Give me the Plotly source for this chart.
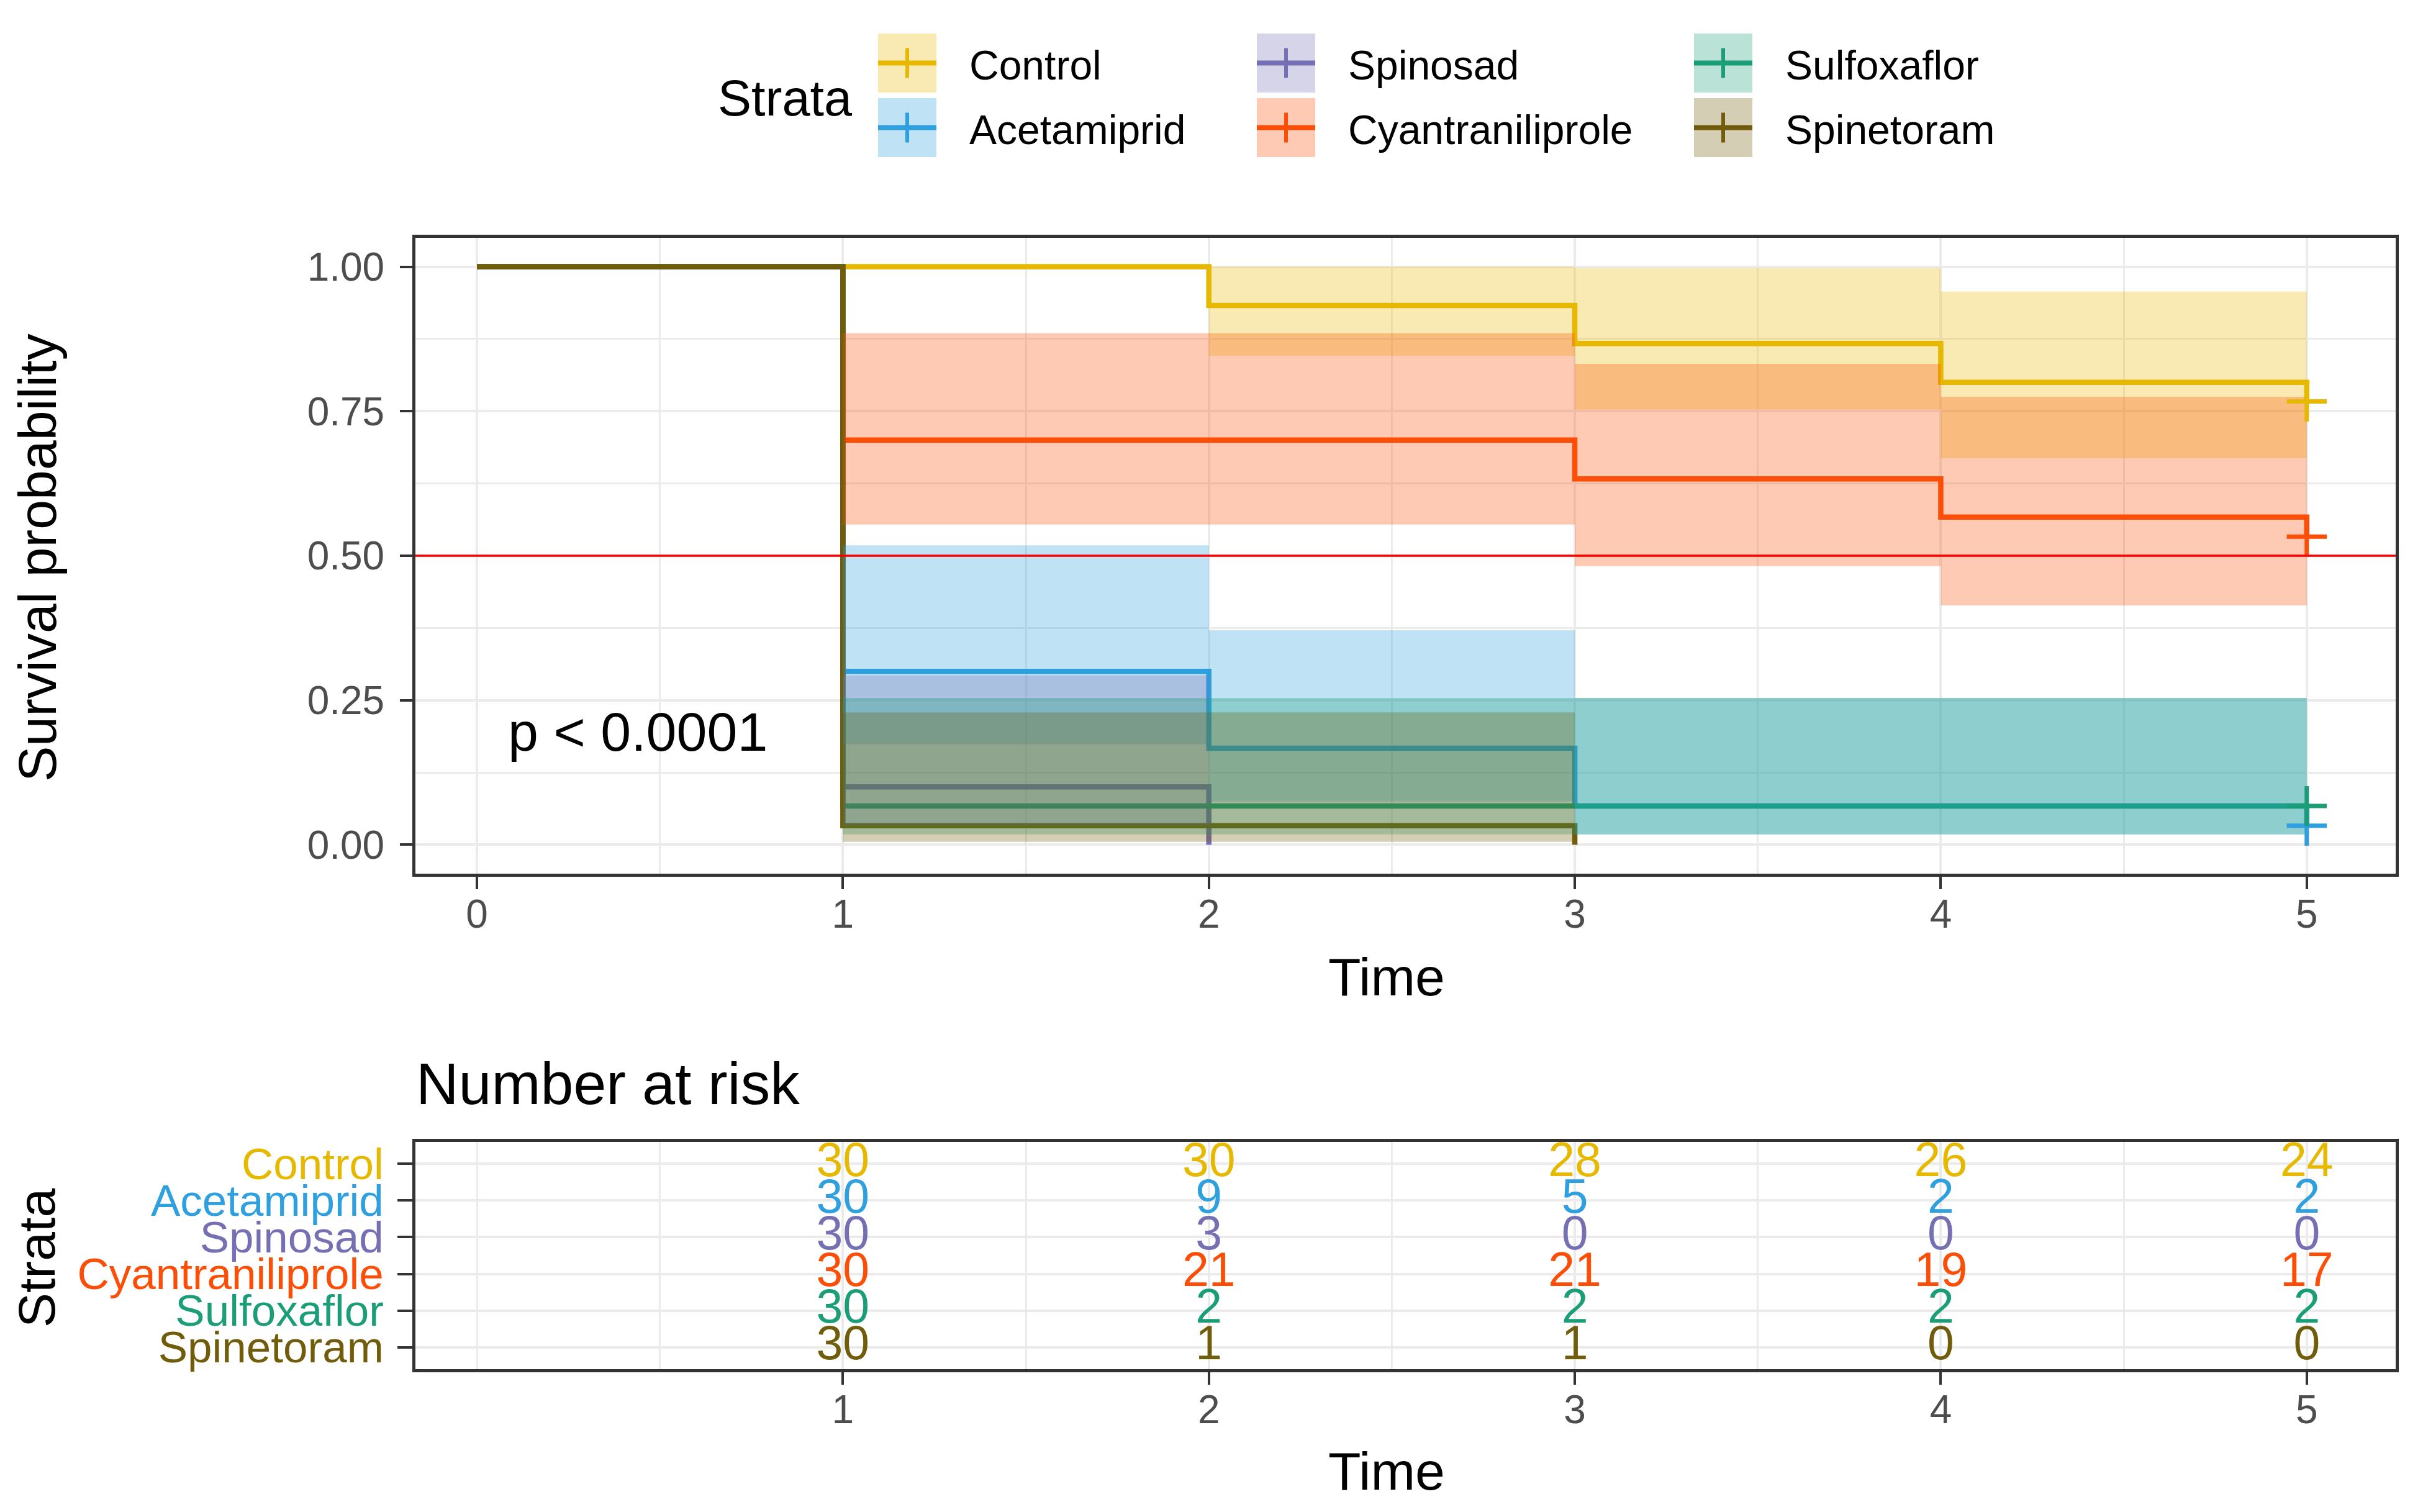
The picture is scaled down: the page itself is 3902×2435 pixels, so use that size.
import plotly.graph_objects as go
from plotly.subplots import make_subplots

FONT = "Liberation Sans, Arial, sans-serif"
GRID = "#EBEBEB"
FRAME = "#333333"
TICK_TEXT = "#4D4D4D"

STRATA = ["Control", "Acetamiprid", "Spinosad", "Cyantraniliprole", "Sulfoxaflor", "Spinetoram"]
COLORS = ["#E7B800", "#2E9FDF", "#7570B3", "#FC4E07", "#1B9E77", "#705C0A"]

# Kaplan-Meier steps (time 0..5)
time_steps = [0, 1, 2, 3, 4, 5]
surv_control = [1.0, 1.0, 0.933, 0.867, 0.800, 0.767]
surv_acetamiprid = [1.0, 0.300, 0.167, 0.067, 0.067, 0.033]
surv_spinosad = [1.0, 0.100, 0.0]
surv_cyantraniliprole = [1.0, 0.700, 0.700, 0.633, 0.567, 0.533]
surv_sulfoxaflor = [1.0, 0.067, 0.067, 0.067, 0.067, 0.067]
surv_spinetoram = [1.0, 0.033, 0.033, 0.0]

# confidence bands
band_time_control = [2, 3, 4, 5]
band_low_control = [0.846, 0.753, 0.669, 0.669]
band_high_control = [1.0, 0.998, 0.957, 0.957]
band_time_acetamiprid = [1, 2, 3, 5]
band_low_acetamiprid = [0.174, 0.075, 0.018, 0.018]
band_high_acetamiprid = [0.518, 0.371, 0.254, 0.254]
band_time_spinosad = [1, 2]
band_low_spinosad = [0.034, 0.034]
band_high_spinosad = [0.293, 0.293]
band_time_cyantraniliprole = [1, 3, 4, 5]
band_low_cyantraniliprole = [0.554, 0.482, 0.414, 0.414]
band_high_cyantraniliprole = [0.885, 0.832, 0.775, 0.775]
band_time_sulfoxaflor = [1, 5]
band_low_sulfoxaflor = [0.018, 0.018]
band_high_sulfoxaflor = [0.254, 0.254]
band_time_spinetoram = [1, 3]
band_low_spinetoram = [0.005, 0.005]
band_high_spinetoram = [0.229, 0.229]

# censoring marks
censor_strata = ["Control", "Acetamiprid", "Cyantraniliprole", "Sulfoxaflor"]
censor_time = [5, 5, 5, 5]
censor_surv = [0.767, 0.033, 0.533, 0.067]

# number at risk
risk_times = [1, 2, 3, 4, 5]
risk_control = [30, 30, 28, 26, 24]
risk_acetamiprid = [30, 9, 5, 2, 2]
risk_spinosad = [30, 3, 0, 0, 0]
risk_cyantraniliprole = [30, 21, 21, 19, 17]
risk_sulfoxaflor = [30, 2, 2, 2, 2]
risk_spinetoram = [30, 1, 1, 0, 0]

surv = [surv_control, surv_acetamiprid, surv_spinosad,
        surv_cyantraniliprole, surv_sulfoxaflor, surv_spinetoram]
bands = [
    (band_time_control, band_low_control, band_high_control),
    (band_time_acetamiprid, band_low_acetamiprid, band_high_acetamiprid),
    (band_time_spinosad, band_low_spinosad, band_high_spinosad),
    (band_time_cyantraniliprole, band_low_cyantraniliprole, band_high_cyantraniliprole),
    (band_time_sulfoxaflor, band_low_sulfoxaflor, band_high_sulfoxaflor),
    (band_time_spinetoram, band_low_spinetoram, band_high_spinetoram),
]
risk = [risk_control, risk_acetamiprid, risk_spinosad,
        risk_cyantraniliprole, risk_sulfoxaflor, risk_spinetoram]


def rgba(hex_color, a):
    h = hex_color.lstrip("#")
    r, g, b = int(h[0:2], 16), int(h[2:4], 16), int(h[4:6], 16)
    return f"rgba({r},{g},{b},{a})"


# pixel -> paper helpers (figure is laid out in reference pixels)
W_FIG, H_FIG = 3902, 2435
ML, MR, MT, MB = 661, 52, 375, 238
MAIN_BOTTOM = 1399
RISK_TOP = 1831


def px(x):
    return (x - ML) / (W_FIG - ML - MR)


def py(y):
    return (H_FIG - MB - y) / (H_FIG - MT - MB)


fig = make_subplots(rows=2, cols=1)

# step lines first (ribbons sit on top, like ggplot)
for name, col, s in zip(STRATA, COLORS, surv):
    fig.add_trace(go.Scatter(
        x=time_steps[:len(s)], y=s, mode="lines", line=dict(color=col, width=8.5, shape="hv"),
        name=name, showlegend=False, hoverinfo="skip"), row=1, col=1)

for name, col, (bt, lo, hi) in zip(STRATA, COLORS, bands):
    fig.add_trace(go.Scatter(
        x=bt, y=hi, mode="lines", line=dict(width=0, shape="hv"),
        showlegend=False, hoverinfo="skip"), row=1, col=1)
    fig.add_trace(go.Scatter(
        x=bt, y=lo, mode="lines", line=dict(width=0, shape="hv"), fill="tonexty",
        fillcolor=rgba(col, 0.3), showlegend=False, hoverinfo="skip"), row=1, col=1)

for name, t, s in zip(censor_strata, censor_time, censor_surv):
    col = COLORS[STRATA.index(name)]
    fig.add_trace(go.Scatter(
        x=[t], y=[s], mode="markers",
        marker=dict(symbol="cross-thin", size=46, color=col, line=dict(color=col, width=7)),
        showlegend=False, hoverinfo="skip"), row=1, col=1)

fig.add_hline(y=0.5, line=dict(color="red", width=3.5), row=1, col=1)

# risk table
n = len(STRATA)
for i, (name, col, r) in enumerate(zip(STRATA, COLORS, risk)):
    fig.add_trace(go.Scatter(
        x=risk_times, y=[n - 1 - i] * len(risk_times), mode="text",
        text=[str(v) for v in r], textfont=dict(family=FONT, size=77, color=col),
        showlegend=False, hoverinfo="skip"), row=2, col=1)

axis_common = dict(
    showline=True, mirror=True, linecolor=FRAME, linewidth=5,
    ticks="outside", ticklen=20, tickwidth=4, tickcolor=FRAME,
    showgrid=True, gridcolor=GRID, gridwidth=3.5, zeroline=False,
    tickfont=dict(family=FONT, size=64, color=TICK_TEXT),
    automargin=False,
)
X_RANGE = [-0.168, 5.243]

fig.update_xaxes(axis_common, row=1, col=1)
fig.update_xaxes(range=X_RANGE, tickvals=[0, 1, 2, 3, 4, 5], ticklabelstandoff=-15,
                 minor=dict(tickvals=[0.5, 1.5, 2.5, 3.5, 4.5], showgrid=True,
                            gridcolor=GRID, gridwidth=3, ticks=""),
                 row=1, col=1)
fig.update_yaxes(axis_common, row=1, col=1)
fig.update_yaxes(range=[-0.05, 1.05], tickvals=[0, 0.25, 0.5, 0.75, 1.0],
                 ticktext=["0.00", "0.25", "0.50", "0.75", "1.00"], ticklabelstandoff=12,
                 minor=dict(tickvals=[0.125, 0.375, 0.625, 0.875], showgrid=True,
                            gridcolor=GRID, gridwidth=3, ticks=""),
                 row=1, col=1)

fig.update_xaxes(axis_common, row=2, col=1)
fig.update_xaxes(range=X_RANGE, tickvals=[1, 2, 3, 4, 5], ticklabelstandoff=-15,
                 minor=dict(tickvals=[0, 0.5, 1.5, 2.5, 3.5, 4.5], showgrid=True,
                            gridcolor=GRID, gridwidth=3, ticks=""),
                 row=2, col=1)
fig.update_yaxes(axis_common, row=2, col=1)
fig.update_yaxes(range=[-0.6, 5.6], tickvals=list(range(n - 1, -1, -1)),
                 ticktext=[f'<span style="color:{c}">{s}</span>' for s, c in zip(STRATA, COLORS)],
                 ticklen=24, tickfont=dict(family=FONT, size=71), ticklabelstandoff=8,
                 row=2, col=1)

fig.update_layout(
    xaxis=dict(domain=[0, 1]),
    yaxis=dict(domain=[py(MAIN_BOTTOM), 1]),
    xaxis2=dict(domain=[0, 1]),
    yaxis2=dict(domain=[0, py(RISK_TOP)]),
)

annotations = [
    dict(text="p < 0.0001", x=0.44, y=0.195, xref="x", yref="y", showarrow=False,
         font=dict(family=FONT, size=88, color="black"), xanchor="center", yanchor="middle"),
    dict(text="Time", x=px(2225), y=py(1565), xref="paper", yref="paper", showarrow=False,
         font=dict(family=FONT, size=86, color="black"), xanchor="center", yanchor="middle"),
    dict(text="Survival probability", x=px(52), y=py(890), xref="paper", yref="paper",
         showarrow=False, textangle=-90,
         font=dict(family=FONT, size=86, color="black"), xanchor="center", yanchor="middle"),
    dict(text="Number at risk", x=px(660), y=py(1737), xref="paper", yref="paper",
         showarrow=False, font=dict(family=FONT, size=95, color="black"),
         xanchor="left", yanchor="middle"),
    dict(text="Strata", x=px(51), y=py(2018), xref="paper", yref="paper",
         showarrow=False, textangle=-90,
         font=dict(family=FONT, size=84, color="black"), xanchor="center", yanchor="middle"),
    dict(text="Time", x=px(2225), y=py(2361), xref="paper", yref="paper", showarrow=False,
         font=dict(family=FONT, size=86, color="black"), xanchor="center", yanchor="middle"),
    dict(text="Strata", x=px(1146), y=py(150), xref="paper", yref="paper", showarrow=False,
         font=dict(family=FONT, size=81, color="black"), xanchor="left", yanchor="middle"),
]

# legend keys: 3 columns x 2 rows, filled column-wise
shapes = []
col_x = [1406, 2016, 2720]
row_y = [46, 150]
KEY_W, KEY_H = 94, 95
for i, (name, col) in enumerate(zip(STRATA, COLORS)):
    x0, y0 = col_x[i // 2], row_y[i % 2]
    cx, cy = x0 + KEY_W / 2, y0 + KEY_H / 2
    shapes.append(dict(type="rect", xref="paper", yref="paper",
                       x0=px(x0), x1=px(x0 + KEY_W), y0=py(y0 + KEY_H), y1=py(y0),
                       fillcolor=rgba(col, 0.3), line=dict(width=0), layer="above"))
    shapes.append(dict(type="line", xref="paper", yref="paper",
                       x0=px(x0), x1=px(x0 + KEY_W), y0=py(cy), y1=py(cy),
                       line=dict(color=col, width=8), layer="above"))
    shapes.append(dict(type="line", xref="paper", yref="paper",
                       x0=px(cx), x1=px(cx), y0=py(cy - 24), y1=py(cy + 24),
                       line=dict(color=col, width=6), layer="above"))
    annotations.append(dict(text=name, x=px(x0 + 145), y=py(cy + 3), xref="paper", yref="paper",
                            showarrow=False, font=dict(family=FONT, size=66, color="black"),
                            xanchor="left", yanchor="middle"))

fig.update_layout(
    width=W_FIG, height=H_FIG,
    margin=dict(l=ML, r=MR, t=MT, b=MB),
    paper_bgcolor="white", plot_bgcolor="white",
    showlegend=False,
    annotations=annotations,
)
for s in shapes:
    fig.add_shape(s)

fig.write_html("out.html")
